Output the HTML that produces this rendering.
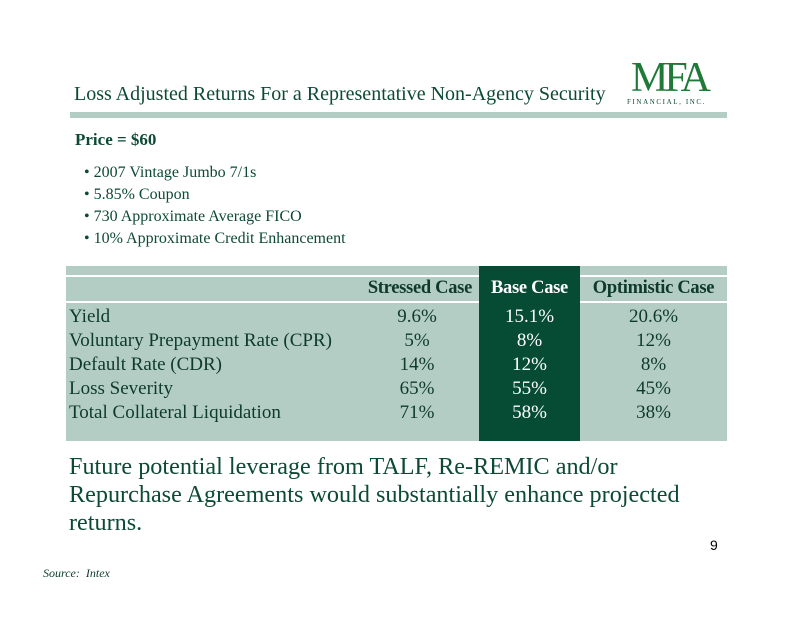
<!DOCTYPE html>
<html><head><style>
body{margin:0;width:800px;height:617px;background:#fff;position:relative;overflow:hidden;font-family:"Liberation Serif",serif;}
.a{position:absolute;white-space:nowrap;}
</style></head><body>
<div class="a" style="left:74px;top:83px;font-size:20px;color:#0d4a35;">Loss Adjusted Returns For a Representative Non-Agency Security</div>
<div class="a" style="left:631px;top:56px;font-size:42px;line-height:44px;color:#1f7a3a;letter-spacing:-4px;">MFA</div>
<div class="a" style="left:627px;top:98px;font-size:7px;color:#0d4a35;letter-spacing:1.6px;">FINANCIAL, INC.</div>
<div class="a" style="left:70px;top:112px;width:657px;height:6px;background:#b3cdc5;"></div>
<div class="a" style="left:75px;top:130px;font-size:17px;font-weight:bold;color:#0d4a35;">Price = $60</div>
<div class="a" style="left:84px;top:162px;font-size:16px;color:#0d4a35;line-height:22px;">• 2007 Vintage Jumbo 7/1s<br>• 5.85% Coupon<br>• 730 Approximate Average FICO<br>• 10% Approximate Credit Enhancement</div>
<div class="a" style="left:66px;top:266px;width:661px;height:175px;background:#b3cdc5;"></div>
<div class="a" style="left:66px;top:275px;width:661px;height:2px;background:#fff;"></div>
<div class="a" style="left:66px;top:301px;width:661px;height:2px;background:#fff;"></div>
<div class="a" style="left:479px;top:266px;width:101px;height:175px;background:#064b33;"></div>
<div class="a" style="left:66px;top:278px;width:661px;font-size:18.5px;font-weight:bold;color:#0d3a2a;letter-spacing:-0.3px;">
<span class="a" style="right:255px;">Stressed Case</span><span class="a" style="left:413px;width:101px;text-align:center;color:#fff;">Base Case</span><span class="a" style="left:514px;width:147px;text-align:center;">Optimistic Case</span></div>
<div class="a" style="left:69px;top:305px;font-size:19px;color:#0d3a2a;line-height:24px;">Yield<br>Voluntary Prepayment Rate (CPR)<br>Default Rate (CDR)<br>Loss Severity<br>Total Collateral Liquidation</div>
<div class="a" style="left:367px;top:305px;width:100px;text-align:center;font-size:19px;color:#0d3a2a;line-height:24px;">9.6%<br>5%<br>14%<br>65%<br>71%</div>
<div class="a" style="left:479px;top:305px;width:101px;text-align:center;font-size:19px;color:#fff;line-height:24px;">15.1%<br>8%<br>12%<br>55%<br>58%</div>
<div class="a" style="left:580px;top:305px;width:147px;text-align:center;font-size:19px;color:#0d3a2a;line-height:24px;">20.6%<br>12%<br>8%<br>45%<br>38%</div>
<div class="a" style="left:69px;top:453px;font-size:24.2px;color:#0d4a35;line-height:28px;">Future potential leverage from TALF, Re-REMIC and/or<br>Repurchase Agreements would substantially enhance projected<br>returns.</div>
<div class="a" style="left:710px;top:537px;font-size:14px;font-family:'Liberation Sans',sans-serif;color:#000;">9</div>
<div class="a" style="left:43px;top:566px;font-size:12px;font-style:italic;color:#0d3a2a;">Source:&nbsp; Intex</div>
</body></html>
